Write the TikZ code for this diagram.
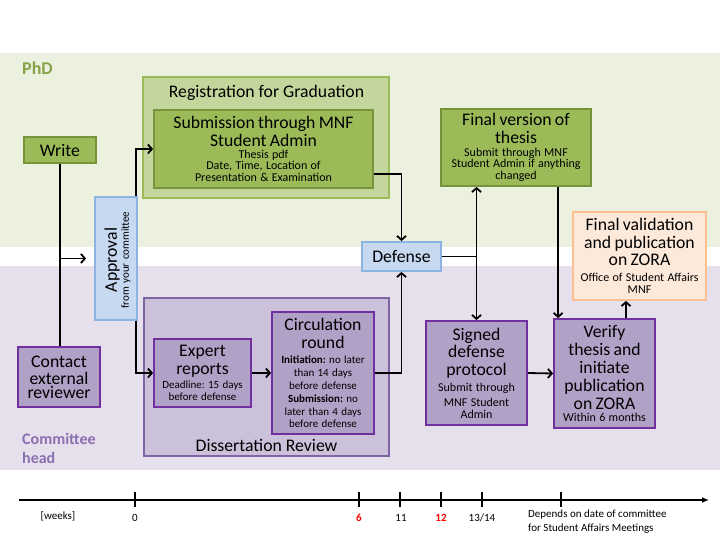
\documentclass[tikz,border=0pt]{standalone}
\usepackage{fontspec}
\setmainfont{Carlito}
\usetikzlibrary{arrows.meta,calc}
\setlength\parindent{0pt}
\frenchspacing
\definecolor{bandg}{HTML}{EBF0DF}
\definecolor{bandp}{HTML}{E5E0EC}
\definecolor{gfl}{HTML}{9BBB59}
\definecolor{gbd}{HTML}{77933C}
\definecolor{rfl}{HTML}{C3D69B}
\definecolor{rbd}{HTML}{9BBB59}
\definecolor{bfl}{HTML}{C6D9F1}
\definecolor{bbd}{HTML}{8DB3E2}
\definecolor{pfl}{HTML}{B2A1C7}
\definecolor{pbd}{HTML}{7030A0}
\definecolor{dfl}{HTML}{CCC1DA}
\definecolor{dbd}{HTML}{8064A2}
\definecolor{ofl}{HTML}{FDE9D9}
\definecolor{obd}{HTML}{FAC090}
\definecolor{phdc}{HTML}{86A34A}
\definecolor{comc}{HTML}{8C6FB0}
\newcommand\bigf{\fontsize{17.7}{17.8}\selectfont}
\newcommand\smf[1][13]{\fontsize{12}{#1}\selectfont}
\newcommand\smg[1][13]{\fontsize{11}{#1}\selectfont}
\newcommand\gapp[1][1pt]{\par\vspace{#1}}
\tikzset{
 box/.style={line width=1.8pt, align=center, inner sep=2pt},
 gbox/.style={box, draw=gbd, fill=gfl},
 pbox/.style={box, draw=pbd, fill=pfl},
 bbox/.style={box, draw=bbd, fill=bfl},
 obox/.style={box, draw=obd, fill=ofl},
 regbox/.style={draw=rbd, fill=rfl, line width=1.8pt},
 drbox/.style={draw=dbd, fill=dfl, line width=1.8pt},
 conn/.style={draw, line width=1.8pt},
 arr/.style={conn, -{Straight Barb[length=4pt,width=9pt]}},
 arrtwo/.style={conn, {Straight Barb[length=4pt,width=9pt]}-{Straight Barb[length=4pt,width=9pt]}},
 tlab/.style={font=\fontsize{11}{14}\selectfont, inner sep=0},
}
\begin{document}
\begin{tikzpicture}[x=1pt,y=-1pt]
\useasboundingbox (0,0) rectangle (720,540);
\fill[bandg] (0,53) rectangle (720,247);
\fill[bandp] (0,266) rectangle (720,470);

\node[font=\fontsize{18}{20}\selectfont\bfseries, text=phdc, anchor=west, inner sep=0] (phd) at (22,68) {PhD};
\node[font=\fontsize{16}{19}\selectfont\bfseries, text=comc, anchor=west, align=left, inner sep=0] (com) at (22,448.5) {Committee\\head};

% outer groups
\node[regbox, minimum width=246pt, minimum height=121pt] (reg) at (266,137.5) {};
\node[font=\bigf, inner sep=0] (regt) at (266.5,93) {Registration for Graduation};
\node[drbox, minimum width=245pt, minimum height=158pt] (dr) at (266.5,377) {};
\node[font=\bigf, inner sep=0] (drt) at (266.5,445) {Dissertation Review};

% boxes
\node[gbox, minimum width=72pt, minimum height=26pt, font=\bigf] (write) at (60,150) {Write};
\node[pbox, minimum width=82pt, minimum height=60pt, text width=78pt] (contact) at (59,377)
 {\bigf Contact\\external\\reviewer};
\node[bbox, minimum width=42pt, minimum height=123pt] (apbox) at (116,258.5) {};
\node[rotate=90, text width=118pt, align=center, inner sep=0] (aptxt) at (117.5,260)
 {\bigf Approval\par\fontsize{11}{20}\selectfont from your committee};

\node[gbox, minimum width=219pt, minimum height=78pt, text width=212pt] (sub) at (263.5,149)
 {\bigf Submission through MNF\\Student Admin\gapp[0.5pt]\smf[11.5] Thesis pdf\\Date, Time, Location of\\Presentation \& Examination};

\node[pbox, minimum width=97pt, minimum height=68pt, text width=93pt] (exp) at (202.5,373)
 {\bigf Expert\\reports\gapp[0.5pt]\smg[13] Deadline: 15 days\\before defense};
\node[pbox, minimum width=102pt, minimum height=122pt, text width=98pt] (circ) at (323,373)
 {\bigf Circulation\\round\gapp[2pt]\smg[13] \textbf{Initiation:} no later\\than 14 days\\before defense\\\textbf{Submission:} no\\later than 4 days\\before defense};

\node[bbox, minimum width=79pt, minimum height=29pt, font=\bigf] (def) at (401.5,256.5) {Defense};

\node[gbox, minimum width=150pt, minimum height=77pt, text width=146pt] (final) at (516,147.5)
 {\bigf Final version of\\thesis\gapp[1pt]\smf[11.5] Submit through MNF\\Student Admin if anything\\changed};

\node[pbox, minimum width=101pt, minimum height=104pt, text width=97pt] (signed) at (476.5,373)
 {\bigf Signed\\defense\\protocol\gapp[1.5pt]\smf[14.5] Submit through\\MNF Student\\Admin};

\node[pbox, minimum width=101pt, minimum height=109pt, text width=97pt] (verify) at (604.5,373.5)
 {\bigf Verify\\thesis and\\initiate\\publication\\on ZORA\gapp[0pt]\smf[14] Within 6 months};

\node[obox, minimum width=133pt, minimum height=88pt, text width=129pt] (valid) at (639.5,256)
 {\bigf Final validation\\and publication\\on ZORA\gapp[2pt]\smf[14] Office of Student Affairs\\MNF};

% connectors
\draw[conn] (write.south) -- (write.south |- contact.north);
\draw[arr, shorten >=8pt] (write.south |- apbox.west) -- (apbox.west);
\coordinate (aps) at ($(apbox.north east)+(-2,0)$);
\coordinate (api) at ($(apbox.south east)+(-2,0)$);
\draw[arr] (aps) |- (sub.west);
\draw[arr] (api) |- (exp.west);
\draw[arr] (exp.east) -- (circ.west);
\coordinate (subo) at ($(sub.east)+(0,25)$);
\draw[arr] (subo) -| (def.north);
\draw[arr] (circ.east) -| (def.south);
\draw[conn] (def.east) -- (def.east -| signed.north);
\draw[arrtwo] (signed.north |- final.south) -- (signed.north);
\coordinate (vin) at ($(verify.north west)+(5,0)$);
\draw[arr] (vin |- final.south) -- (vin);
\draw[arr] (signed.east) -- (verify.west);
\coordinate (vout) at ($(verify.north)+(21.5,0)$);
\draw[arr] (vout) -- (vout |- valid.south);

% timeline
\coordinate (t0) at (19,500);
\coordinate (t1) at (709,500);
\draw[line width=1.5pt, -{Latex[length=7pt,width=6pt]}] (t0) -- (t1);
\foreach \x in {135,359,400,441,482,561} \draw[line width=1.5pt] (\x,492) -- (\x,507);
\node[tlab] (lw) at (58,516) {[weeks]};
\node[tlab] (l0) at (135,518) {0};
\node[tlab, text=red, font=\fontsize{11}{14}\selectfont\bfseries] (l6) at (359,518) {6};
\node[tlab] (l11) at (401,518) {11};
\node[tlab, text=red, font=\fontsize{11}{14}\selectfont\bfseries] (l12) at (441,518) {12};
\node[tlab] (l13) at (482,518) {13/14};
\node[tlab, anchor=west, align=left] (ldep) at (528,522) {Depends on date of committee\\for Student Affairs Meetings};
\end{tikzpicture}
\end{document}
